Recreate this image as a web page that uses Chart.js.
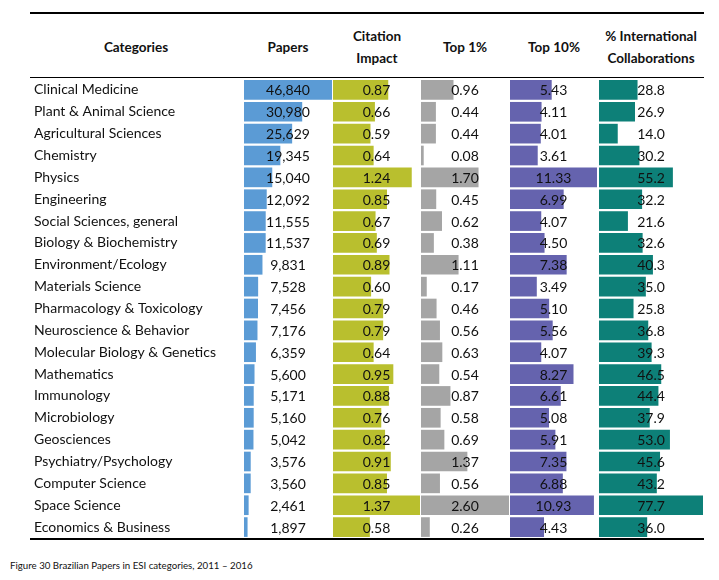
<!DOCTYPE html>
<html>
<head>
<meta charset="utf-8">
<script src="https://cdn.jsdelivr.net/npm/chart.js@4"></script>
<style>
  body { margin: 0; background: #fff; font-family: Lato, "Open Sans", sans-serif; color: #111; }
  #wrap { position: relative; width: 719px; height: 580px; }
  .rule { position: absolute; left: 30px; width: 674px; background: #000; }
  .hd { position: absolute; font-weight: bold; font-size: 13.5px; text-align: center; line-height: 22px; }
  .col { position: absolute; top: 79px; height: 459px; }
  #caption { position: absolute; left: 10px; top: 559px; font-size: 9.7px; }
</style>
</head>
<body>
<div id="wrap">
  <div class="rule" style="top:12px;height:2px"></div>
  <div class="rule" style="top:77px;height:1px"></div>
  <div class="rule" style="top:538px;height:2px"></div>

  <div class="hd" style="left:76px;width:120px;top:36px">Categories</div>
  <div class="hd" style="left:244px;width:88px;top:36px">Papers</div>
  <div class="hd" style="left:333px;width:88px;top:25px">Citation<br>Impact</div>
  <div class="hd" style="left:421px;width:88px;top:36px">Top 1%</div>
  <div class="hd" style="left:510px;width:88px;top:36px">Top 10%</div>
  <div class="hd" style="left:594px;width:114px;top:25px">% International<br>Collaborations</div>

  <div class="col" style="left:0;width:332px"><canvas id="c0"></canvas></div>
  <div class="col" style="left:333px;width:87px"><canvas id="c1"></canvas></div>
  <div class="col" style="left:421px;width:88px"><canvas id="c2"></canvas></div>
  <div class="col" style="left:510px;width:87px"><canvas id="c3"></canvas></div>
  <div class="col" style="left:599px;width:104px"><canvas id="c4"></canvas></div>

  <div id="caption">Figure 30 Brazilian Papers in ESI categories, 2011 &#8211; 2016</div>
</div>
<script>
const categories = [
  'Clinical Medicine', 'Plant & Animal Science', 'Agricultural Sciences', 'Chemistry',
  'Physics', 'Engineering', 'Social Sciences, general', 'Biology & Biochemistry',
  'Environment/Ecology', 'Materials Science', 'Pharmacology & Toxicology',
  'Neuroscience & Behavior', 'Molecular Biology & Genetics', 'Mathematics',
  'Immunology', 'Microbiology', 'Geosciences', 'Psychiatry/Psychology',
  'Computer Science', 'Space Science', 'Economics & Business'
];
const papers = [46840, 30980, 25629, 19345, 15040, 12092, 11555, 11537, 9831, 7528, 7456,
  7176, 6359, 5600, 5171, 5160, 5042, 3576, 3560, 2461, 1897];
const citationImpact = [0.87, 0.66, 0.59, 0.64, 1.24, 0.85, 0.67, 0.69, 0.89, 0.60, 0.79,
  0.79, 0.64, 0.95, 0.88, 0.76, 0.82, 0.91, 0.85, 1.37, 0.58];
const top1 = [0.96, 0.44, 0.44, 0.08, 1.70, 0.45, 0.62, 0.38, 1.11, 0.17, 0.46,
  0.56, 0.63, 0.54, 0.87, 0.58, 0.69, 1.37, 0.56, 2.60, 0.26];
const top10 = [5.43, 4.11, 4.01, 3.61, 11.33, 6.99, 4.07, 4.50, 7.38, 3.49, 5.10,
  5.56, 4.07, 8.27, 6.61, 5.08, 5.91, 7.35, 6.88, 10.93, 4.43];
const intlCollab = [28.8, 26.9, 14.0, 30.2, 55.2, 32.2, 21.6, 32.6, 40.3, 35.0, 25.8,
  36.8, 39.3, 46.5, 44.4, 37.9, 53.0, 45.6, 43.2, 77.7, 36.0];

const FONT = 'Lato, "Open Sans", sans-serif';

// writes each value centred in its column, on top of the bar
function valueLabels(format) {
  return {
    id: 'valueLabels',
    afterDatasetsDraw(chart) {
      const ctx = chart.ctx;
      const area = chart.chartArea;
      const ds = chart.data.datasets[0];
      ctx.save();
      ctx.font = '14px ' + FONT;
      ctx.fillStyle = '#111';
      ctx.textAlign = 'center';
      ctx.textBaseline = 'middle';
      chart.getDatasetMeta(0).data.forEach((bar, i) => {
        ctx.fillText(format(ds.data[i]), (area.left + area.right) / 2, bar.y + 1);
      });
      ctx.restore();
    }
  };
}

function makeColumn(id, values, color, format, withNames) {
  new Chart(document.getElementById(id), {
    type: 'bar',
    data: {
      labels: categories,
      datasets: [{
        data: values,
        backgroundColor: color,
        borderWidth: 0,
        barPercentage: 0.9,
        categoryPercentage: 1.0
      }]
    },
    options: {
      indexAxis: 'y',
      responsive: true,
      maintainAspectRatio: false,
      animation: false,
      layout: { padding: { left: withNames ? 34 : 0, right: 0, top: 0, bottom: 0 } },
      scales: {
        x: { display: false, min: 0, max: Math.max(...values) },
        y: {
          display: withNames,
          grid: { display: false },
          border: { display: false },
          afterFit(scale) {
            if (withNames) scale.width = 210;
            scale.paddingTop = 0;
            scale.paddingBottom = 0;
          },
          ticks: {
            crossAlign: 'far',
            padding: 0,
            color: '#111',
            font: { family: FONT, size: 14 }
          }
        }
      },
      plugins: {
        legend: { display: false },
        tooltip: { enabled: false }
      }
    },
    plugins: [valueLabels(format)]
  });
}

makeColumn('c0', papers, '#5B9BD5', v => Number(v).toLocaleString('en-US'), true);
makeColumn('c1', citationImpact, '#B9BF2E', v => Number(v).toFixed(2), false);
makeColumn('c2', top1, '#A5A5A5', v => Number(v).toFixed(2), false);
makeColumn('c3', top10, '#6563AE', v => Number(v).toFixed(2), false);
makeColumn('c4', intlCollab, '#0D8078', v => Number(v).toFixed(1), false);
</script>
</body>
</html>
